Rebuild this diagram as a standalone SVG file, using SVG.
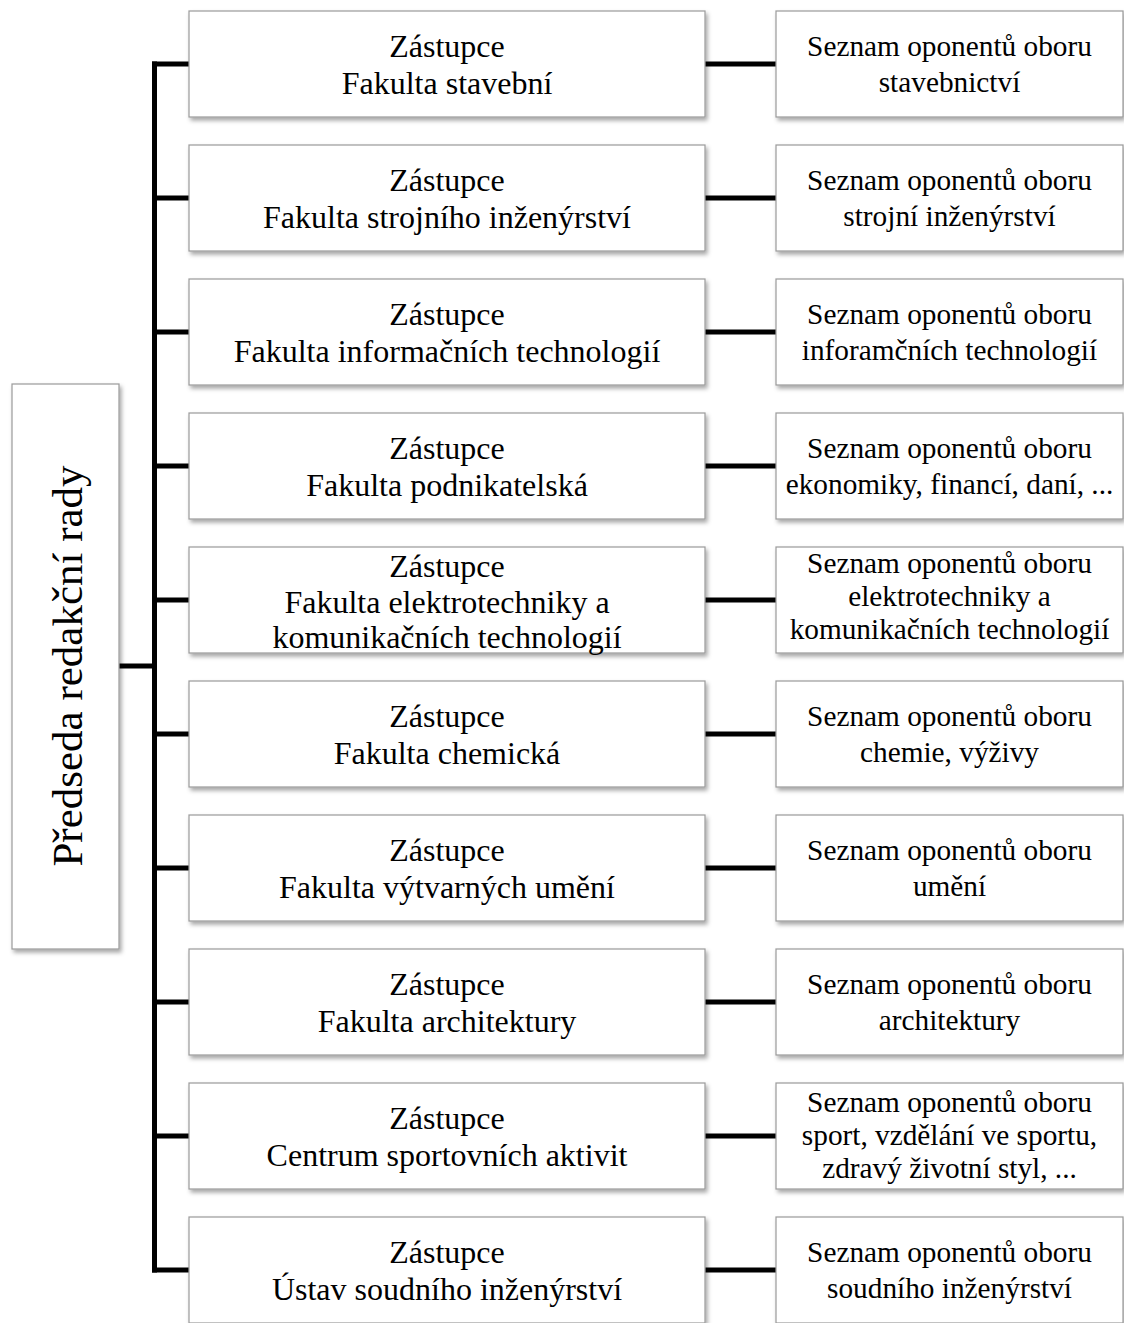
<svg xmlns="http://www.w3.org/2000/svg" width="1124" height="1323" viewBox="0 0 1124 1323">
<defs>
<filter id="sh" x="-5%" y="-5%" width="115%" height="120%">
<feDropShadow dx="2" dy="3" stdDeviation="2" flood-color="#000" flood-opacity="0.35"/>
</filter>
<style>
.box{fill:#fff;stroke:#9a9a9a;stroke-width:1.2;filter:url(#sh)}
.t{font-family:"Liberation Serif","Times New Roman",serif;fill:#000;text-anchor:middle}
.m{font-size:32px}
.r{font-size:29.3px}
.l{font-size:43px}
.c{stroke:#000;stroke-width:5;fill:none}
</style>
</defs>
<rect width="1124" height="1323" fill="#fff"/>
<g id="connectors">
<line class="c" x1="154.5" y1="61.5" x2="154.5" y2="1272.5"/>
<line class="c" x1="119" y1="666" x2="154.5" y2="666"/>
<line class="c" x1="152" y1="64" x2="189" y2="64"/>
<line class="c" x1="152" y1="198" x2="189" y2="198"/>
<line class="c" x1="152" y1="332" x2="189" y2="332"/>
<line class="c" x1="152" y1="466" x2="189" y2="466"/>
<line class="c" x1="152" y1="600" x2="189" y2="600"/>
<line class="c" x1="152" y1="734" x2="189" y2="734"/>
<line class="c" x1="152" y1="868" x2="189" y2="868"/>
<line class="c" x1="152" y1="1002" x2="189" y2="1002"/>
<line class="c" x1="152" y1="1136" x2="189" y2="1136"/>
<line class="c" x1="152" y1="1270" x2="189" y2="1270"/>
<line class="c" x1="705" y1="64" x2="776" y2="64"/>
<line class="c" x1="705" y1="198" x2="776" y2="198"/>
<line class="c" x1="705" y1="332" x2="776" y2="332"/>
<line class="c" x1="705" y1="466" x2="776" y2="466"/>
<line class="c" x1="705" y1="600" x2="776" y2="600"/>
<line class="c" x1="705" y1="734" x2="776" y2="734"/>
<line class="c" x1="705" y1="868" x2="776" y2="868"/>
<line class="c" x1="705" y1="1002" x2="776" y2="1002"/>
<line class="c" x1="705" y1="1136" x2="776" y2="1136"/>
<line class="c" x1="705" y1="1270" x2="776" y2="1270"/>
</g>
<g id="predseda">
<rect class="box" x="12" y="384" width="107" height="565"/>
<text class="t l" transform="translate(82 666) rotate(-90)">Předseda redakční rady</text>
</g>
<g id="z1"><rect class="box" x="189" y="11" width="516" height="106"/><text class="t m" x="447" y="57">Zástupce</text><text class="t m" x="447" y="94">Fakulta stavební</text></g>
<g id="s1"><rect class="box" x="776" y="11" width="347" height="106"/><text class="t r" x="949.5" y="56">Seznam oponentů oboru</text><text class="t r" x="949.5" y="92">stavebnictví</text></g>
<g id="z2"><rect class="box" x="189" y="145" width="516" height="106"/><text class="t m" x="447" y="191">Zástupce</text><text class="t m" x="447" y="228">Fakulta strojního inženýrství</text></g>
<g id="s2"><rect class="box" x="776" y="145" width="347" height="106"/><text class="t r" x="949.5" y="190">Seznam oponentů oboru</text><text class="t r" x="949.5" y="226">strojní inženýrství</text></g>
<g id="z3"><rect class="box" x="189" y="279" width="516" height="106"/><text class="t m" x="447" y="325">Zástupce</text><text class="t m" x="447" y="362">Fakulta informačních technologií</text></g>
<g id="s3"><rect class="box" x="776" y="279" width="347" height="106"/><text class="t r" x="949.5" y="324">Seznam oponentů oboru</text><text class="t r" x="949.5" y="360">inforamčních technologií</text></g>
<g id="z4"><rect class="box" x="189" y="413" width="516" height="106"/><text class="t m" x="447" y="459">Zástupce</text><text class="t m" x="447" y="496">Fakulta podnikatelská</text></g>
<g id="s4"><rect class="box" x="776" y="413" width="347" height="106"/><text class="t r" x="949.5" y="458">Seznam oponentů oboru</text><text class="t r" x="949.5" y="494">ekonomiky, financí, daní, ...</text></g>
<g id="z5"><rect class="box" x="189" y="547" width="516" height="106"/><text class="t m" x="447" y="577">Zástupce</text><text class="t m" x="447" y="613">Fakulta elektrotechniky a</text><text class="t m" x="447" y="648">komunikačních technologií</text></g>
<g id="s5"><rect class="box" x="776" y="547" width="347" height="106"/><text class="t r" x="949.5" y="573">Seznam oponentů oboru</text><text class="t r" x="949.5" y="606">elektrotechniky a</text><text class="t r" x="949.5" y="639">komunikačních technologií</text></g>
<g id="z6"><rect class="box" x="189" y="681" width="516" height="106"/><text class="t m" x="447" y="727">Zástupce</text><text class="t m" x="447" y="764">Fakulta chemická</text></g>
<g id="s6"><rect class="box" x="776" y="681" width="347" height="106"/><text class="t r" x="949.5" y="726">Seznam oponentů oboru</text><text class="t r" x="949.5" y="762">chemie, výživy</text></g>
<g id="z7"><rect class="box" x="189" y="815" width="516" height="106"/><text class="t m" x="447" y="861">Zástupce</text><text class="t m" x="447" y="898">Fakulta výtvarných umění</text></g>
<g id="s7"><rect class="box" x="776" y="815" width="347" height="106"/><text class="t r" x="949.5" y="860">Seznam oponentů oboru</text><text class="t r" x="949.5" y="896">umění</text></g>
<g id="z8"><rect class="box" x="189" y="949" width="516" height="106"/><text class="t m" x="447" y="995">Zástupce</text><text class="t m" x="447" y="1032">Fakulta architektury</text></g>
<g id="s8"><rect class="box" x="776" y="949" width="347" height="106"/><text class="t r" x="949.5" y="994">Seznam oponentů oboru</text><text class="t r" x="949.5" y="1030">architektury</text></g>
<g id="z9"><rect class="box" x="189" y="1083" width="516" height="106"/><text class="t m" x="447" y="1129">Zástupce</text><text class="t m" x="447" y="1166">Centrum sportovních aktivit</text></g>
<g id="s9"><rect class="box" x="776" y="1083" width="347" height="106"/><text class="t r" x="949.5" y="1112">Seznam oponentů oboru</text><text class="t r" x="949.5" y="1145">sport, vzdělání ve sportu,</text><text class="t r" x="949.5" y="1178">zdravý životní styl, ...</text></g>
<g id="z10"><rect class="box" x="189" y="1217" width="516" height="106"/><text class="t m" x="447" y="1263">Zástupce</text><text class="t m" x="447" y="1300">Ústav soudního inženýrství</text></g>
<g id="s10"><rect class="box" x="776" y="1217" width="347" height="106"/><text class="t r" x="949.5" y="1262">Seznam oponentů oboru</text><text class="t r" x="949.5" y="1298">soudního inženýrství</text></g>
</svg>
